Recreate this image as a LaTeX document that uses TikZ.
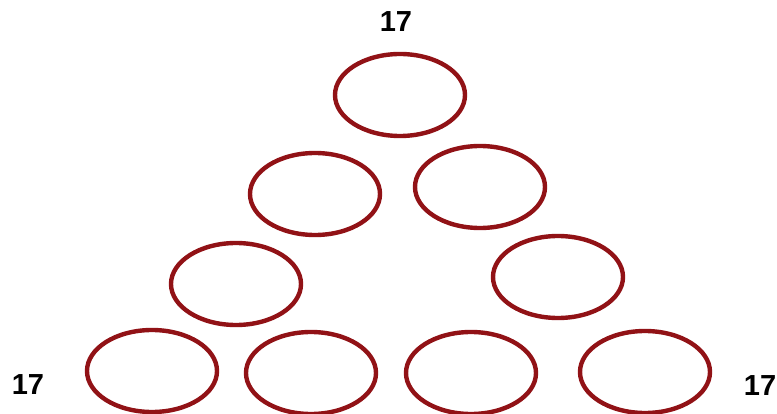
\documentclass[tikz,border=0pt]{standalone}
\usepackage{fontspec}
\setmainfont{Liberation Sans}
\usetikzlibrary{shapes.geometric, positioning}
\definecolor{ringred}{RGB}{145,18,22}
\tikzset{
  ring/.style={ellipse, draw=ringred, line width=4.4pt, inner sep=0pt,
    minimum width=130pt, minimum height=82pt},
  sumlabel/.style={font=\fontsize{29}{30}\selectfont\bfseries, inner sep=0pt},
}
\begin{document}
\begin{tikzpicture}[x=1pt, y=-1pt]
  \useasboundingbox (0,0) rectangle (777,414);

  % Apex
  \node[ring] (apex) at (400,95) {};

  % Left side
  \node[ring] (left2) at (315,194) {};
  \node[ring] (left3) at (236,284) {};

  % Right side
  \node[ring] (right2) at (480,187) {};
  \node[ring] (right3) at (558,277) {};

  % Base row
  \node[ring] (base1) at (152,371) {};
  \node[ring] (base2) at (311,373) {};
  \node[ring] (base3) at (471,373) {};
  \node[ring] (base4) at (645,372) {};

  % Sums
  \node[sumlabel] (sumtop)   at (396,22)  {17};
  \node[sumlabel] (sumleft)  at (28,385)  {17};
  \node[sumlabel] (sumright) at (760,386) {17};
\end{tikzpicture}
\end{document}
